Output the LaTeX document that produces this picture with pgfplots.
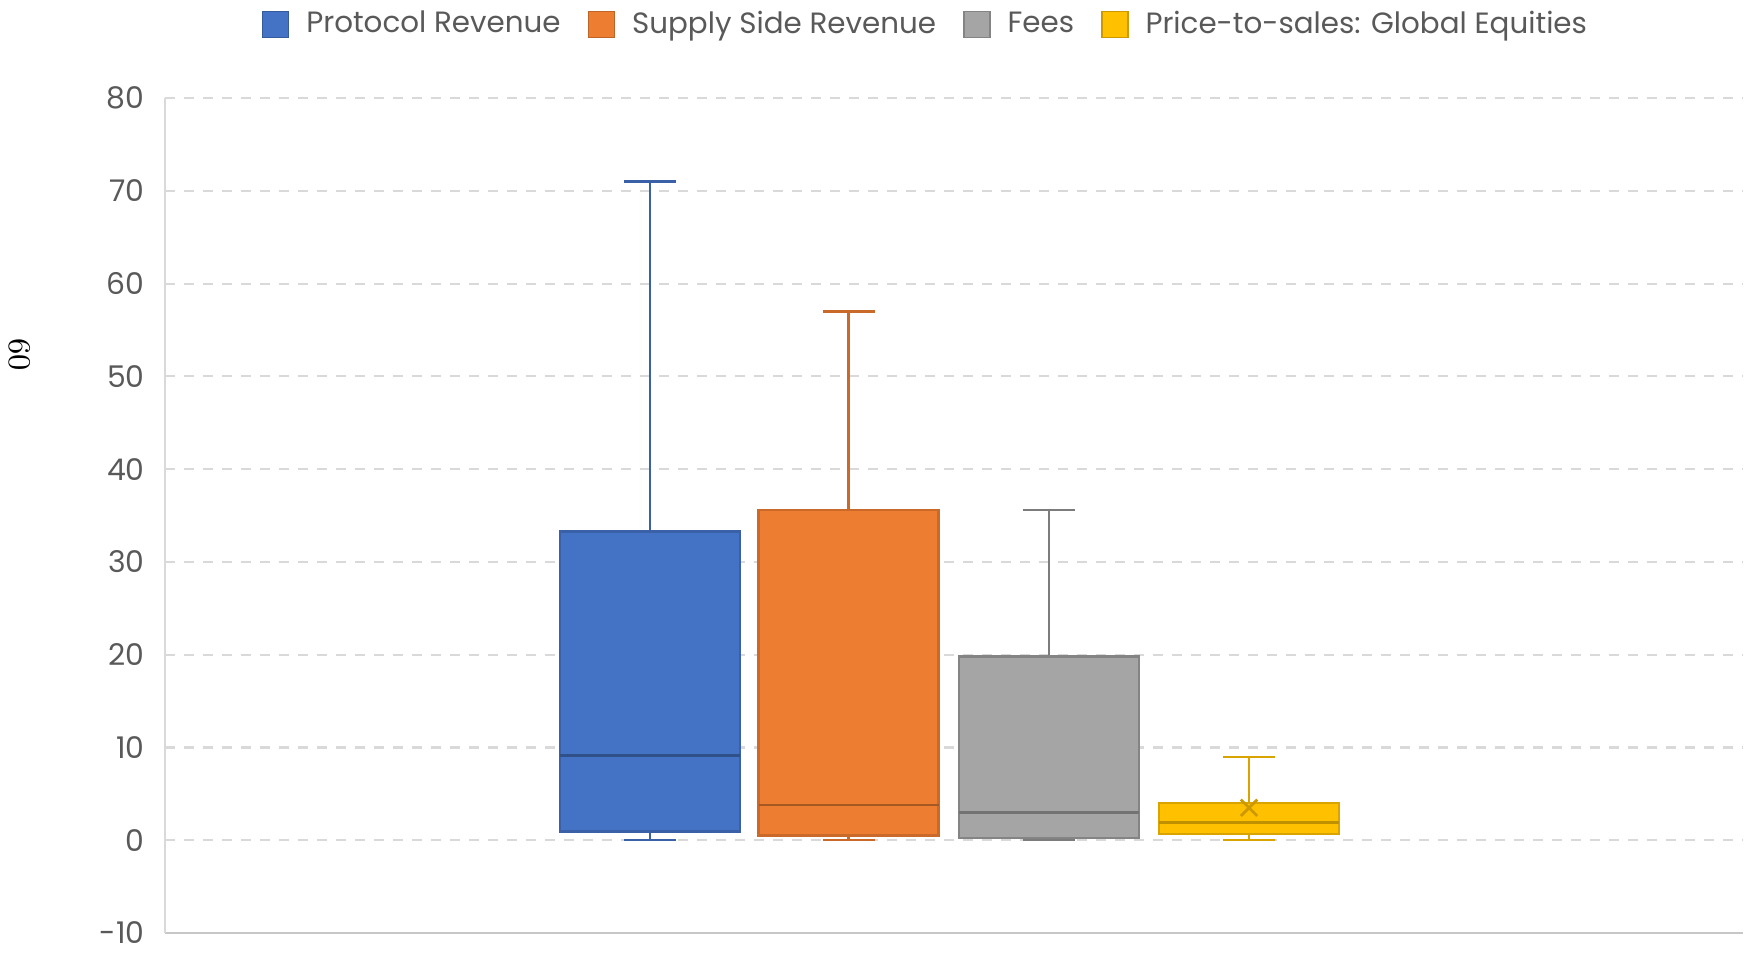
\documentclass[border=0pt]{standalone}
\usepackage{pgfplots}
\pgfplotsset{compat=1.18}
\usepackage{fontspec}
\newfontfamily\chartfont{Poppins}
\definecolor{cblue}{HTML}{4472C4}
\definecolor{corange}{HTML}{ED7D31}
\definecolor{cgray}{HTML}{A5A5A5}
\definecolor{cyellow}{HTML}{FFC000}
\definecolor{gridc}{HTML}{D9D9D9}
\definecolor{tickc}{HTML}{595959}
\begin{document}
\begin{tikzpicture}
\path[use as bounding box] (-1.65,-0.21) rectangle (15.81,9.33);
\begin{axis}[
  scale only axis,
  width=15.78cm, height=8.35cm,
  at={(0,0)}, anchor=south west,
  xmin=0, xmax=1578,
  ymin=-10, ymax=80,
  ytick={-10,0,...,80},
  xtick=\empty,
  axis x line*=bottom,
  axis y line*=left,
  axis line style={gridc, line width=0.6pt},
  x axis line style={draw=gridc!80!gray},
  major tick length=0pt,
  ymajorgrids,
  major grid style={gridc, line width=0.6pt, dash pattern=on 0.1cm off 0.09cm},
  yticklabel style={font=\chartfont\fontsize{8.5}{10}\selectfont, text=tickc, xshift=-0.08cm},
  /pgf/number format/assume math mode=true,
  ylabel={60},
  ylabel style={at={(rel axis cs:-0.0919,0.693)}, anchor=center, rotate=-180, font=\fontsize{9}{10}\selectfont},
  legend columns=4,
  legend style={draw=none, fill=none, at={(rel axis cs:0.4835,1.088)}, anchor=center,
    font=\chartfont\fontsize{8.35}{10}\selectfont, text=tickc,
    /tikz/every even column/.append style={column sep=0.2cm}},
  legend image code/.code={\draw[#1] (0cm,-0.13cm) rectangle (0.26cm,0.13cm); \path (0.36cm,0cm);},
  clip=false,
]
\addlegendimage{fill=cblue, draw=cblue!80!black}
\addlegendentry{Protocol Revenue}
\addlegendimage{fill=corange, draw=corange!80!black}
\addlegendentry{Supply Side Revenue}
\addlegendimage{fill=cgray, draw=cgray!80!black}
\addlegendentry{Fees}
\addlegendimage{fill=cyellow, draw=cyellow!80!black}
\addlegendentry{Price-to-sales: Global Equities}

% Protocol Revenue: min 0, Q1 0.95, median 9.1, Q3 33.3, max 71
\addplot[forget plot, draw=cblue!85!black, line width=0.7pt] coordinates {(485,0) (485,0.95)};
\addplot[forget plot, draw=cblue!85!black, line width=0.7pt] coordinates {(459,0) (511,0)};
\addplot[forget plot, draw=cblue!85!black, line width=0.7pt] coordinates {(485,33.3) (485,71)};
\addplot[forget plot, draw=cblue!85!black, line width=0.7pt] coordinates {(459,71) (511,71)};
\addplot[forget plot, fill=cblue, draw=cblue!85!black, line width=0.7pt] coordinates {(395,0.95) (575,0.95) (575,33.3) (395,33.3)} -- cycle;
\addplot[forget plot, draw=cblue!70!black, line width=0.8pt] coordinates {(395,9.1) (575,9.1)};

% Supply Side Revenue: min 0, Q1 0.5, median 3.8, Q3 35.6, max 57
\addplot[forget plot, draw=corange!85!black, line width=0.7pt] coordinates {(683.5,0) (683.5,0.5)};
\addplot[forget plot, draw=corange!85!black, line width=0.7pt] coordinates {(657.5,0) (709.5,0)};
\addplot[forget plot, draw=corange!85!black, line width=0.7pt] coordinates {(683.5,35.6) (683.5,57)};
\addplot[forget plot, draw=corange!85!black, line width=0.7pt] coordinates {(657.5,57) (709.5,57)};
\addplot[forget plot, fill=corange, draw=corange!85!black, line width=0.7pt] coordinates {(593.5,0.5) (773.5,0.5) (773.5,35.6) (593.5,35.6)} -- cycle;
\addplot[forget plot, draw=corange!70!black, line width=0.8pt] coordinates {(593.5,3.8) (773.5,3.8)};

% Fees: min 0, Q1 0.25, median 3.0, Q3 19.8, max 35.6
\addplot[forget plot, draw=cgray!75!black, line width=0.7pt] coordinates {(858,0) (910,0)};
\addplot[forget plot, draw=cgray!75!black, line width=0.7pt] coordinates {(884,19.8) (884,35.6)};
\addplot[forget plot, draw=cgray!75!black, line width=0.7pt] coordinates {(858,35.6) (910,35.6)};
\addplot[forget plot, fill=cgray, draw=cgray!80!black, line width=0.7pt] coordinates {(794,0.25) (974,0.25) (974,19.8) (794,19.8)} -- cycle;
\addplot[forget plot, draw=cgray!70!black, line width=0.8pt] coordinates {(794,3.0) (974,3.0)};

% Price-to-sales: Global Equities: min 0, Q1 0.7, median 1.9, Q3 4.0, max 9.0, mean 3.5
\addplot[forget plot, draw=cyellow!85!black, line width=0.7pt] coordinates {(1084,0) (1084,0.7)};
\addplot[forget plot, draw=cyellow!85!black, line width=0.7pt] coordinates {(1058,0) (1110,0)};
\addplot[forget plot, draw=cyellow!85!black, line width=0.7pt] coordinates {(1084,4.0) (1084,9.0)};
\addplot[forget plot, draw=cyellow!85!black, line width=0.7pt] coordinates {(1058,9.0) (1110,9.0)};
\addplot[forget plot, fill=cyellow, draw=cyellow!85!black, line width=0.7pt] coordinates {(994,0.7) (1174,0.7) (1174,4.0) (994,4.0)} -- cycle;
\addplot[forget plot, draw=cyellow!75!black, line width=0.8pt] coordinates {(994,1.9) (1174,1.9)};
\addplot[forget plot, only marks, mark=x, mark size=3.3pt, draw=cyellow!80!black, line width=0.8pt]
  coordinates {(1084,3.5)};
\end{axis}
\end{tikzpicture}
\end{document}
